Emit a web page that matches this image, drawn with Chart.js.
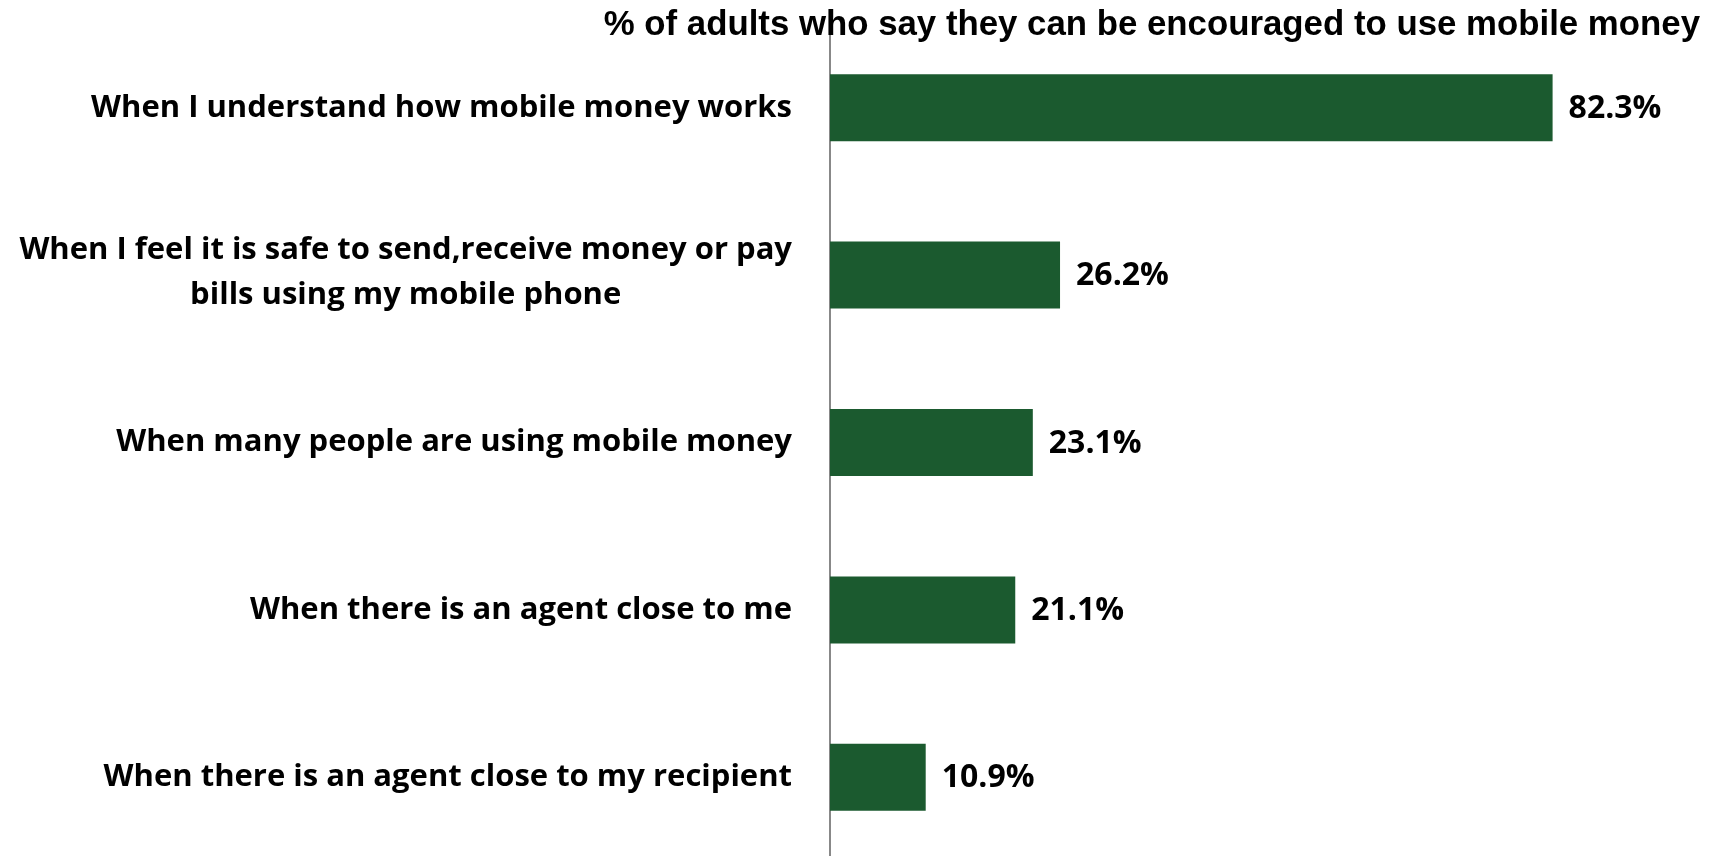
<!DOCTYPE html>
<html>
<head>
<meta charset="utf-8">
<script src="https://cdn.jsdelivr.net/npm/chart.js@4.4.1/dist/chart.umd.min.js"></script>
<style>
  html, body { margin: 0; padding: 0; background: #fff; overflow: hidden; }
  canvas { display: block; }
</style>
</head>
<body>
<canvas id="encourage_chart" width="1715" height="870"></canvas>
<script>
"use strict";

const chartTitle = "% of adults who say they can be encouraged to use mobile money";

const reasons = [
  ["When I understand how mobile money works"],
  ["When I feel it is safe to send,receive money or pay", "bills using my mobile phone"],
  ["When many people are using mobile money"],
  ["When there is an agent close to me"],
  ["When there is an agent close to my recipient"]
];

const shares = [82.3, 26.2, 23.1, 21.1, 10.9];

const barGreen = "#1b5a2f";
const labelFont = "bold 31px 'Open Sans', Lato, sans-serif";
const valueFont = "bold 32px 'Open Sans', Lato, sans-serif";
const titleFont = "bold 34.8px 'Liberation Sans', Arial, sans-serif";

// category labels: block right-aligned to the axis, each line centred in the block
const categoryLabels = {
  id: "categoryLabels",
  afterDraw(chart) {
    const ctx = chart.ctx;
    const yScale = chart.scales.y;
    const right = chart.chartArea.left - 38;
    const lineHeight = 45;
    ctx.save();
    ctx.font = labelFont;
    ctx.fillStyle = "#000";
    ctx.textAlign = "center";
    ctx.textBaseline = "middle";
    reasons.forEach((lines, i) => {
      const blockWidth = Math.max(...lines.map((l) => ctx.measureText(l).width));
      const cx = right - blockWidth / 2;
      const cy = yScale.getPixelForTick(i) - ((lines.length - 1) * lineHeight) / 2 - (lines.length - 1) * 2;
      lines.forEach((line, j) => ctx.fillText(line, cx, cy + j * lineHeight));
    });
    ctx.restore();
  }
};

const valueLabels = {
  id: "valueLabels",
  afterDatasetsDraw(chart) {
    const ctx = chart.ctx;
    const meta = chart.getDatasetMeta(0);
    ctx.save();
    ctx.font = valueFont;
    ctx.fillStyle = "#000";
    ctx.textAlign = "left";
    ctx.textBaseline = "middle";
    meta.data.forEach((bar, i) => {
      ctx.fillText(shares[i].toFixed(1) + "%", bar.x + 16, bar.y + 1);
    });
    ctx.restore();
  }
};

const topTitle = {
  id: "topTitle",
  afterDraw(chart) {
    const ctx = chart.ctx;
    ctx.save();
    ctx.font = titleFont;
    ctx.fillStyle = "#000";
    ctx.textAlign = "right";
    ctx.textBaseline = "alphabetic";
    ctx.fillText(chartTitle, chart.width - 15, 35);
    ctx.restore();
  }
};

const encourageChartContext = document
  .getElementById("encourage_chart")
  .getContext("2d");

const encourageChart = new Chart(encourageChartContext, {
  type: "bar",
  data: {
    labels: reasons,
    datasets: [
      {
        data: shares,
        backgroundColor: barGreen,
        borderWidth: 0,
        categoryPercentage: 1,
        barPercentage: 0.4
      }
    ]
  },
  options: {
    indexAxis: "y",
    responsive: false,
    animation: false,
    layout: {
      padding: { left: 830, right: 7, top: 24, bottom: 9 }
    },
    plugins: {
      legend: { display: false },
      tooltip: { enabled: false }
    },
    scales: {
      x: {
        display: false,
        min: 0,
        max: 100
      },
      y: {
        grid: { display: false, drawTicks: false },
        border: { display: true, color: "#888", width: 2 },
        ticks: { display: false }
      }
    }
  },
  plugins: [categoryLabels, valueLabels, topTitle]
});
</script>
</body>
</html>
